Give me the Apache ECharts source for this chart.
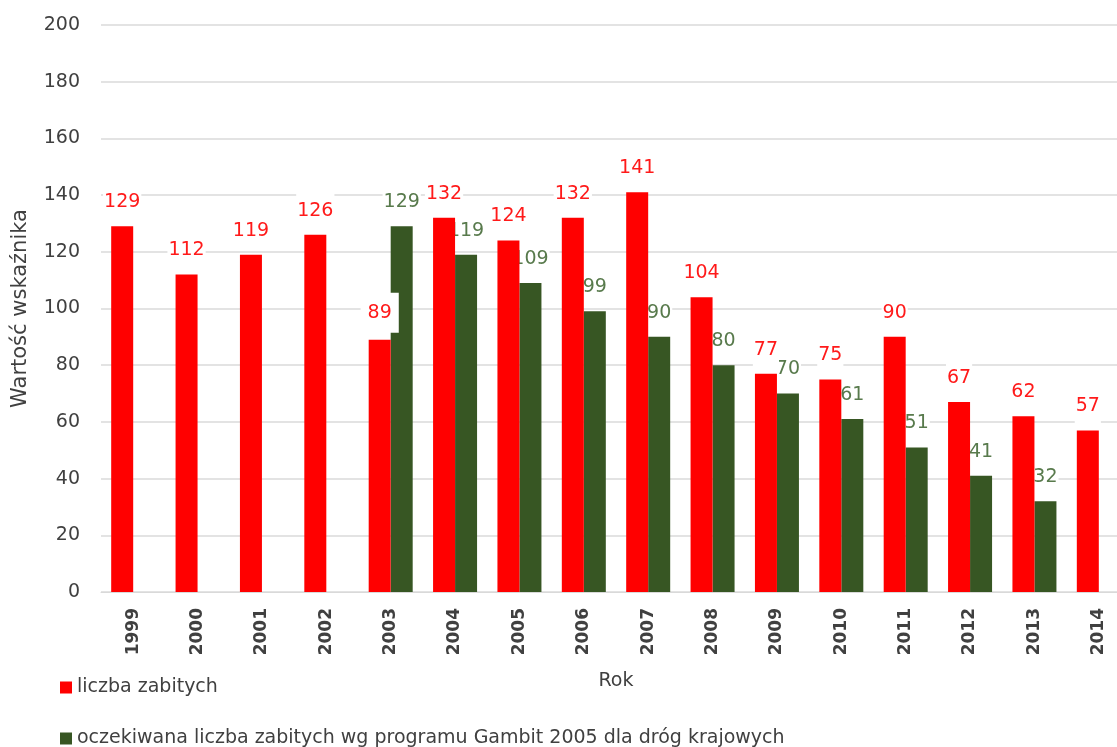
<!DOCTYPE html>
<html>
<head>
<meta charset="utf-8">
<script src="https://cdn.jsdelivr.net/npm/echarts@6/dist/echarts.min.js"></script>
<style>
  html, body { margin: 0; padding: 0; background: #fff; }
  #chart { width: 1117px; height: 747px; }
</style>
</head>
<body>
<div id="chart"></div>
<script>
// Years on the category axis
const years = ['1999','2000','2001','2002','2003','2004','2005','2006','2007','2008','2009','2010','2011','2012','2013','2014'];
// Recorded fatalities
const killed = [129, 112, 119, 126, 89, 132, 124, 132, 141, 104, 77, 75, 90, 67, 62, 57];
// Expected fatalities per the GAMBIT 2005 programme (national roads)
const expected = [null, null, null, null, 129, 119, 109, 99, 90, 80, 70, 61, 51, 41, 32, null];

const seriesNames = ['liczba zabitych', 'oczekiwana liczba zabitych wg programu Gambit 2005 dla dróg krajowych'];
const RED = '#ff0000';
const GREEN = '#375623';
const FONT = '"DejaVu Sans", sans-serif';
const TEXT = '#404040';

const chart = echarts.init(document.getElementById('chart'));

function labelStyle(color) {
  return {
    show: true,
    position: 'top',
    distance: 7,
    color: color,
    fontFamily: FONT,
    fontSize: 19,
    lineHeight: 20,
    backgroundColor: '#fff',
    padding: [7, 1]
  };
}

// 2003 label box is wider, so it sits over the neighbouring bar
const killedData = killed.map((v, i) => years[i] === '2003'
  ? { value: v, label: { padding: [10, 7] } }
  : v);

function legendItem(name, top) {
  return {
    orient: 'vertical',
    left: 55,
    top: top,
    itemWidth: 12,
    itemHeight: 12,
    itemGap: 0,
    icon: 'rect',
    textStyle: { fontFamily: FONT, fontSize: 19, color: TEXT },
    data: [name]
  };
}

chart.setOption({
  animation: false,
  grid: { left: 101, top: 25, width: 1030, bottom: 155, outerBoundsMode: 'none' },
  legend: [legendItem(seriesNames[0], 673), legendItem(seriesNames[1], 724)],
  xAxis: {
    type: 'category',
    data: years,
    name: 'Rok',
    nameLocation: 'middle',
    nameGap: 80,
    nameTextStyle: { fontFamily: FONT, fontSize: 19, color: TEXT },
    axisLine: { lineStyle: { color: '#d9d9d9' } },
    axisTick: { show: false },
    axisLabel: { rotate: 90, margin: 16, fontFamily: FONT, fontSize: 17, fontWeight: 'bold', color: TEXT }
  },
  yAxis: {
    type: 'value',
    min: 0,
    max: 200,
    interval: 20,
    name: 'Wartość wskaźnika',
    nameLocation: 'middle',
    nameGap: 70,
    nameRotate: 90,
    nameTextStyle: { fontFamily: FONT, fontSize: 21, color: TEXT },
    axisLine: { show: false },
    axisTick: { show: false },
    axisLabel: { margin: 21, fontFamily: FONT, fontSize: 19, color: TEXT },
    splitLine: { lineStyle: { color: '#e3e3e3', width: 2 } }
  },
  series: [
    {
      name: seriesNames[0],
      type: 'bar',
      z: 3,
      barWidth: 22,
      barGap: '0%',
      itemStyle: { color: RED },
      label: labelStyle('#ff1a1a'),
      data: killedData
    },
    {
      name: seriesNames[1],
      type: 'bar',
      z: 2,
      barWidth: 22,
      barGap: '0%',
      itemStyle: { color: GREEN },
      label: labelStyle('#587a4c'),
      data: expected
    }
  ]
});
</script>
</body>
</html>
